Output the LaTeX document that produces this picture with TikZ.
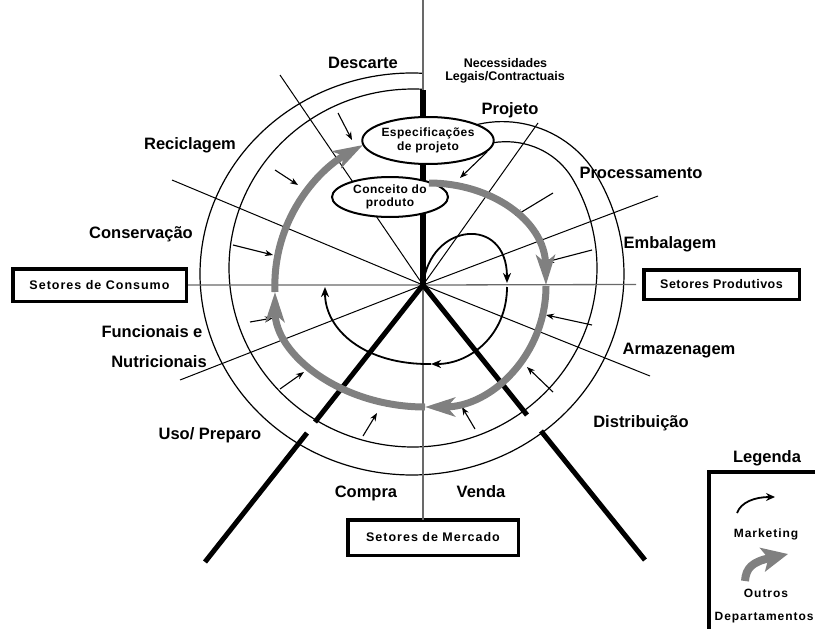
\documentclass[tikz,border=0pt]{standalone}
\usepackage{fontspec}
\setmainfont{Liberation Sans}
\newfontfamily\spacedsans[LetterSpace=8]{Liberation Sans}
\newfontfamily\lightspaced[LetterSpace=4]{Liberation Sans}
\usetikzlibrary{arrows.meta,shapes.geometric}

\definecolor{spiralgray}{RGB}{128,128,128}
\definecolor{axisgray}{RGB}{105,105,105}

\begin{document}
\begin{tikzpicture}[x=1pt,y=-1pt,
  ring/.style={line width=1.2pt, black},
  spoke/.style={line width=1pt, black},
  axisline/.style={line width=1.3pt, axisgray},
  heavyspoke/.style={line width=5pt, black},
  greyflow/.style={line width=7pt, spiralgray, -{Stealth[length=30pt,width=19pt,inset=8pt]}},
  mktflow/.style={line width=1.8pt, black, -{Stealth[length=10pt,width=8pt,inset=3pt]}},
  inflow/.style={line width=1.1pt, black, -{Stealth[length=8pt,width=6pt,inset=2.5pt]}},
  phase/.style={font=\fontsize{16.5}{18}\selectfont\bfseries, anchor=base, inner sep=0pt},
  note/.style={font=\fontsize{12.5}{14}\selectfont\bfseries, anchor=base, inner sep=0pt},
  legendtext/.style={font=\spacedsans\fontsize{12}{14}\selectfont\bfseries, anchor=base, inner sep=0pt},
  sectorbox/.style={draw, line width=3.5pt, inner sep=0pt, fill=white,
    font=\spacedsans\fontsize{12.5}{14}\selectfont\bfseries},
  stage/.style={ellipse, draw, line width=2pt, fill=white, inner sep=0pt, align=center,
    font=\lightspaced\fontsize{12}{13.5}\selectfont\bfseries},
]
\useasboundingbox (0,0) rectangle (815,629);
\clip (0,0) rectangle (815,629);

% centre of the spiral and spoke end points
\coordinate (O) at (423,285);
\coordinate (top) at (423,0);
\coordinate (barTop) at (423,90);
\coordinate (ulA) at (280,75);
\coordinate (ulB) at (172,180);
\coordinate (llA) at (180,380);
\coordinate (urA) at (658,196);
\coordinate (urB) at (538,123);
\coordinate (lrA) at (650,376);
\coordinate (llIn) at (315,422);
\coordinate (llOut) at (307,433);
\coordinate (llEnd) at (205,562);
\coordinate (lrIn) at (527,415);
\coordinate (lrOut) at (541,431);
\coordinate (lrEnd) at (645,560);

% sector boxes
\node[sectorbox, minimum width=173.5pt, minimum height=32.5pt] (consumo) at (99.5,285) {Setores de Consumo};
\node[sectorbox, minimum width=155.5pt, minimum height=29.5pt, font=\lightspaced\fontsize{12.5}{14}\selectfont\bfseries] (produtivos) at (721.5,284.5) {Setores Produtivos};
\node[sectorbox, minimum width=170.5pt, minimum height=35.5pt] (mercado) at (433,537.5) {Setores de Mercado};

% the two spiral rings: each one opens out from the design stage and closes on the axis
\draw[ring] plot[domain=-72:273, samples=220]
  ({412+212*(1-0.2*pow(max(0,(-30-\x)/38),2))*cos(\x)},
   {274+201*(1-0.2*pow(max(0,(-30-\x)/38),2))*sin(\x)});
\draw[ring] plot[domain=-66:273.4, samples=220]
  ({413+184*(1-0.2*pow(max(0,(-30-\x)/30),2))*cos(\x)},
   {268+179*(1-0.2*pow(max(0,(-30-\x)/30),2))*sin(\x)});

% spokes
\draw[spoke] (O) -- (ulA);
\draw[spoke] (O) -- (ulB);
\draw[spoke] (O) -- (llA);
\draw[spoke] (O) -- (urA);
\draw[spoke] (O) -- (urB);
\draw[spoke] (O) -- (lrA);
\draw[axisline] (consumo.east) -- (O) -- ([xshift=-6pt]produtivos.west);
\draw[axisline] (O) -- ([yshift=-2pt]O |- mercado.north);
\draw[axisline] (top) -- (barTop);

% heavy spokes
\draw[line width=6pt] (barTop) -- (O);
\draw[heavyspoke] (O) -- (llIn);
\draw[heavyspoke] (llOut) -- (llEnd);
\draw[heavyspoke] (O) -- (lrIn);
\draw[heavyspoke] (lrOut) -- (lrEnd);

% marketing loop
\draw[mktflow] (O) .. controls (430,222) and (507,215) .. (507,283);
\draw[mktflow] (507,287) .. controls (507,335) and (470,364) .. (431,364);
\draw[mktflow] (431,364) .. controls (365,365) and (325,330) .. (325,287);

% marketing inputs from each phase
\draw[inflow] (338,113) -- (352,140);
\draw[inflow] (275,170) -- (298,185);
\draw[inflow] (233,245) -- (273,255);
\draw[inflow] (250,322) -- (273,318);
\draw[inflow] (280,389) -- (304,372);
\draw[inflow] (363,436) -- (377,413);
\draw[inflow] (475,429) -- (462,407);
\draw[inflow] (553,392) -- (527,367);
\draw[inflow] (592,325) -- (546,315);
\draw[inflow] (592,250) -- (546,262);
\draw[inflow] (553,193) -- (515,216);
\draw[inflow] (487,152) -- (460,178);

% stages on the main axis
\node[stage, minimum width=130pt, minimum height=47pt] (spec) at (428,140.5) {Especificações\\de projeto};
\node[stage, minimum width=116pt, minimum height=40pt] (concept) at (390,197) {Conceito do\\produto};

% flow of the other departments (grey spiral)
\draw[greyflow] (429,183) .. controls (490,183) and (545,220) .. (546,285);
\draw[greyflow] (546,286) .. controls (546,354) and (492,407) .. (425,407);
\draw[greyflow] (425,407) .. controls (342,407) and (275,355) .. (275,292);
\draw[greyflow] (275,292) .. controls (272,220) and (318,170) .. (363,145);

% phase labels
\node[phase] (lDescarte) at (363,68.5) {Descarte};
\node[note] (lNeed1) at (505.5,67.5) {Necessidades};
\node[note] (lNeed2) at (505,80.5) {Legais/Contractuais};
\node[phase] (lProjeto) at (510,114) {Projeto};
\node[phase] (lRecic) at (190,149) {Reciclagem};
\node[phase] (lProc) at (641,178) {Processamento};
\node[phase] (lCons) at (141,238) {Conservação};
\node[phase] (lEmb) at (670,248) {Embalagem};
\node[phase] (lFunc) at (152,337) {Funcionais e};
\node[phase] (lNutr) at (159,367) {Nutricionais};
\node[phase] (lArm) at (679,354) {Armazenagem};
\node[phase] (lUso) at (210,439) {Uso/ Preparo};
\node[phase] (lDist) at (641,427) {Distribuição};
\node[phase] (lCompra) at (366,497.5) {Compra};
\node[phase] (lVenda) at (481,497.5) {Venda};

% legend
\node[phase] (lLegenda) at (767,462) {Legenda};
\draw[line width=3.5pt] (708.75,640) -- (708.75,471.75) -- (830,471.75);
\draw[line width=1.8pt, -{Stealth[length=9pt,width=8pt,inset=3pt]}] (737,513) .. controls (741,502) and (755,497) .. (775,497);
\node[legendtext] (lMkt) at (766,537) {Marketing};
\draw[spiralgray, line width=8pt, -{Stealth[length=26pt,width=24pt,inset=6pt]}] (745,581) .. controls (746,568) and (752,562) .. (788,554);
\node[legendtext] (lOutros) at (766,597.5) {Outros};
\node[legendtext, anchor=base west] (lDept) at (714.5,620) {Departamentos};
\end{tikzpicture}
\end{document}
